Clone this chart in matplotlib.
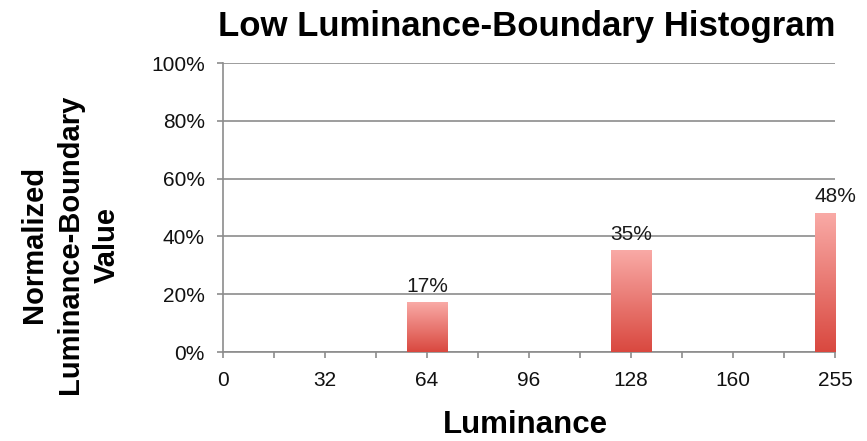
import numpy as np
import matplotlib
matplotlib.use("Agg")
import matplotlib.pyplot as plt
from matplotlib.colors import LinearSegmentedColormap

# Dati
luminanza = ['0', '32', '64', '96', '128', '160', '255']
valori = [0, 0, 17, 0, 35, 0, 48]  # percentuali

plt.rcParams['font.family'] = ['Liberation Sans', 'DejaVu Sans']

fig = plt.figure(figsize=(8.67, 4.41), dpi=100)
ax = fig.add_axes([0.2572, 0.2018, 0.7059, 0.6553])

pos = np.arange(len(luminanza)) * 2
grigio = '#8c8c8c'

# Sfumatura delle barre: rosa chiaro in alto, rosso in basso
cmap = LinearSegmentedColormap.from_list('sfumatura', ['#d9483f', '#f9aaa6'])
grad = np.linspace(0, 1, 256).reshape(-1, 1)

larghezza = 0.8
for x, v in zip(pos, valori):
    if v == 0:
        continue
    ax.bar(x, v, width=larghezza, color='none', edgecolor='none', zorder=3)
    # l'immagine resta tagliata dal bordo degli assi (barra a 255 dimezzata)
    ax.imshow(grad, cmap=cmap, origin='lower', aspect='auto',
              extent=(x - larghezza / 2, x + larghezza / 2, 0, v), zorder=3)
    ax.text(x, v + 2.5, f'{v}%', ha='center', va='bottom', fontsize=15, color='#1a1a1a',
            zorder=4, clip_on=False)

ax.set_xlim(0, 12)
ax.set_ylim(0, 100)

ax.set_xticks(np.arange(0, 13))
ax.set_xticklabels([luminanza[i // 2] if i % 2 == 0 else '' for i in range(13)])
ax.set_yticks(np.arange(0, 101, 20))
ax.set_yticklabels([f'{t}%' for t in range(0, 101, 20)])

ax.grid(axis='y', color=grigio, linewidth=1.2, zorder=0)
ax.set_axisbelow(True)
for s in ['top', 'right']:
    ax.spines[s].set_visible(False)
for s in ['left', 'bottom']:
    ax.spines[s].set_color(grigio)
    ax.spines[s].set_linewidth(1.2)

ax.tick_params(axis='both', direction='out', length=4, width=1.2, color=grigio,
               labelsize=15, labelcolor='#111111')
ax.tick_params(axis='x', pad=10)
ax.tick_params(axis='y', pad=9)

fig.text(0.608, 0.94, 'Low Luminance-Boundary Histogram', ha='center', va='center',
         fontsize=25, fontweight='bold')
fig.text(0.606, 0.036, 'Luminance', ha='center', va='center', fontsize=22.5, fontweight='bold')
fig.text(0.081, 0.445, 'Normalized\nLuminance-Boundary\nValue', ha='center', va='center',
         rotation=90, fontsize=21, fontweight='bold', linespacing=1.38)

fig.savefig('out.png', dpi=100)
